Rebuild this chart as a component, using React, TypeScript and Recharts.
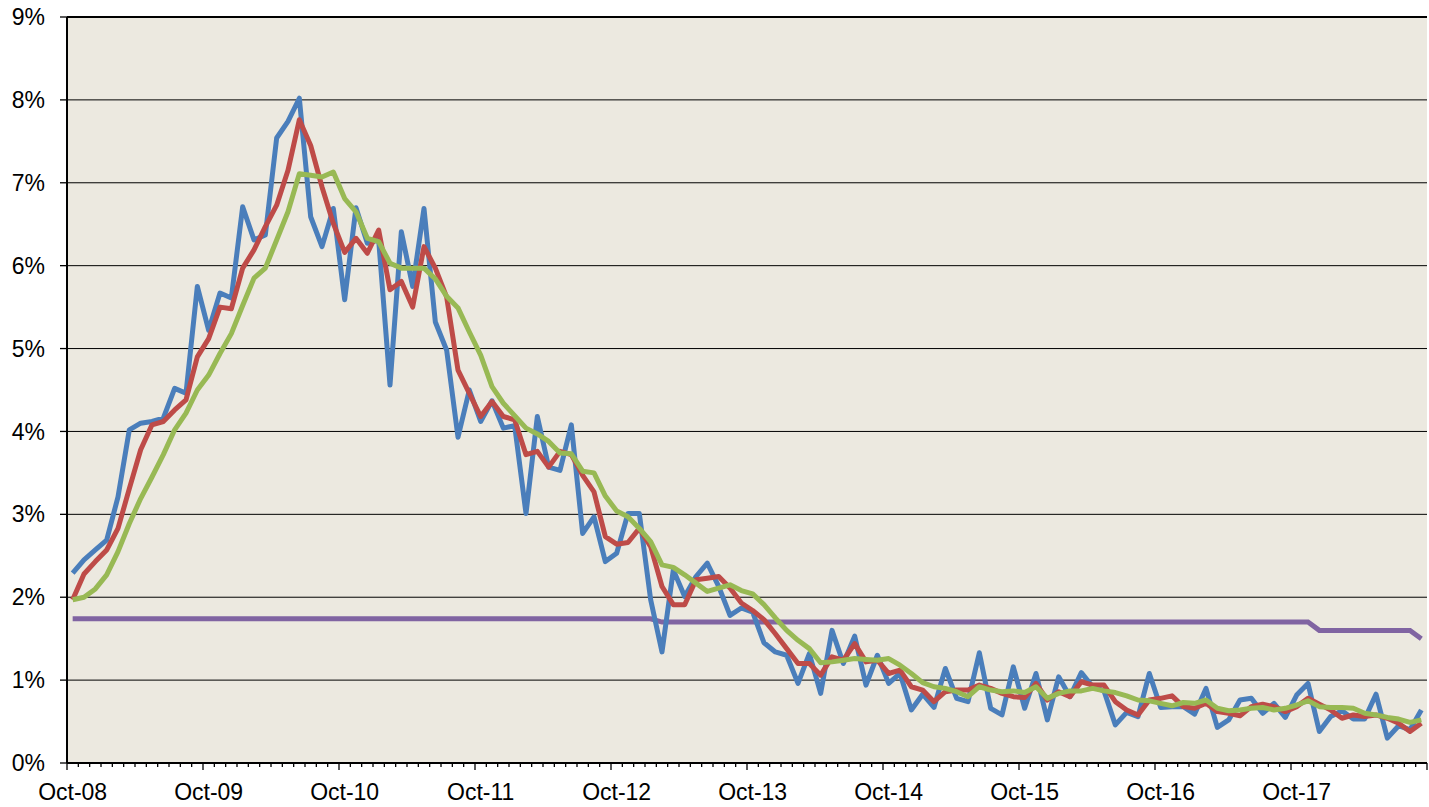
import {
  CartesianGrid,
  Line,
  LineChart,
  ReferenceLine,
  XAxis,
  YAxis,
} from "recharts";

// month categories Oct-08 .. Sep-18
const FIRST_HALF = ["Oct", "Nov", "Dec"];
const SECOND_HALF = ["Jan", "Feb", "Mar", "Apr", "May", "Jun", "Jul", "Aug", "Sep"];
const pad = (n: number) => (n < 10 ? `0${n}` : `${n}`);
const months: string[] = [];
for (let y = 8; y < 18; y++) {
  FIRST_HALF.forEach((m) => months.push(`${m}-${pad(y)}`));
  SECOND_HALF.forEach((m) => months.push(`${m}-${pad(y + 1)}`));
}

const monthly = [
  2.29, 2.45, 2.57, 2.69, 3.21, 4.02, 4.1, 4.12, 4.16, 4.52, 4.46, 5.75,
  5.22, 5.67, 5.61, 6.71, 6.31, 6.37, 7.54, 7.74, 8.02, 6.59, 6.23, 6.69,
  5.59, 6.7, 6.27, 6.31, 4.56, 6.41, 5.75, 6.69, 5.32, 4.98, 3.93, 4.5,
  4.12, 4.37, 4.04, 4.07, 3.01, 4.18, 3.57, 3.53, 4.08, 2.77, 2.97, 2.43,
  2.53, 3.01, 3.01, 1.97, 1.34, 2.33, 2.01, 2.25, 2.41, 2.13, 1.78, 1.87,
  1.82, 1.45, 1.34, 1.3, 0.96, 1.32, 0.84, 1.6, 1.2, 1.53, 0.94, 1.3,
  0.96, 1.08, 0.64, 0.83, 0.67, 1.14, 0.78, 0.74, 1.33, 0.66, 0.58, 1.16,
  0.66, 1.08, 0.52, 1.04, 0.8, 1.09, 0.92, 0.87, 0.46, 0.61, 0.56, 1.08,
  0.67, 0.68, 0.68, 0.59, 0.9, 0.43, 0.52, 0.76, 0.78, 0.6, 0.72, 0.55,
  0.82, 0.96, 0.38, 0.56, 0.63, 0.53, 0.53, 0.83, 0.3, 0.45, 0.4, 0.64,
];

const avgShort = [
  1.97, 2.28, 2.43, 2.57, 2.83, 3.31, 3.78, 4.08, 4.12, 4.26, 4.38, 4.9,
  5.12, 5.5, 5.48, 5.97, 6.19, 6.47, 6.73, 7.15, 7.76, 7.45, 6.95, 6.51,
  6.16, 6.33, 6.15, 6.43, 5.71, 5.81, 5.5, 6.23, 5.97, 5.62, 4.74, 4.46,
  4.18, 4.36, 4.18, 4.14, 3.72, 3.76, 3.57, 3.76, 3.72, 3.47, 3.27, 2.73,
  2.64, 2.66, 2.83, 2.61, 2.13, 1.91, 1.91, 2.21, 2.23, 2.25, 2.11, 1.93,
  1.84, 1.73, 1.56, 1.38, 1.2, 1.2, 1.06, 1.28, 1.24, 1.44, 1.22, 1.24,
  1.08, 1.12, 0.92, 0.88, 0.74, 0.86, 0.88, 0.88, 0.94, 0.9, 0.84, 0.8,
  0.79, 0.96, 0.76, 0.86, 0.8, 0.98, 0.94, 0.94, 0.74, 0.64, 0.58, 0.76,
  0.78, 0.81, 0.68, 0.66, 0.72, 0.62, 0.6, 0.57, 0.68, 0.71, 0.68, 0.62,
  0.68, 0.78, 0.71, 0.64, 0.54, 0.58, 0.56, 0.58, 0.54, 0.48, 0.38, 0.48,
];

const avgLong = [
  1.97, 2.0, 2.1, 2.27, 2.55, 2.89, 3.19, 3.45, 3.72, 4.02, 4.22, 4.5,
  4.68, 4.94, 5.18, 5.52, 5.85, 5.97, 6.31, 6.65, 7.11, 7.09, 7.07, 7.13,
  6.81, 6.65, 6.33, 6.29, 6.03, 5.97, 5.97, 5.97, 5.84, 5.63, 5.49, 5.2,
  4.92, 4.54, 4.34, 4.19, 4.04, 3.97, 3.88, 3.74, 3.73, 3.52, 3.5, 3.22,
  3.04, 2.97, 2.83, 2.67, 2.39, 2.36, 2.27, 2.17, 2.07, 2.11, 2.15, 2.08,
  2.04, 1.91, 1.75, 1.6, 1.48, 1.38, 1.21, 1.22, 1.24, 1.26, 1.25, 1.24,
  1.26, 1.18, 1.08, 0.97, 0.92, 0.9, 0.86, 0.8, 0.92, 0.88, 0.86, 0.87,
  0.85, 0.92, 0.78, 0.84, 0.87, 0.87, 0.9, 0.87, 0.85, 0.81, 0.76, 0.75,
  0.72, 0.69, 0.73, 0.72, 0.76, 0.66, 0.63, 0.64, 0.66, 0.67, 0.64, 0.66,
  0.7, 0.75, 0.68, 0.67, 0.67, 0.66, 0.6, 0.58, 0.55, 0.53, 0.49, 0.52,
];

const benchmark = [
  1.74, 1.74, 1.74, 1.74, 1.74, 1.74, 1.74, 1.74, 1.74, 1.74, 1.74, 1.74,
  1.74, 1.74, 1.74, 1.74, 1.74, 1.74, 1.74, 1.74, 1.74, 1.74, 1.74, 1.74,
  1.74, 1.74, 1.74, 1.74, 1.74, 1.74, 1.74, 1.74, 1.74, 1.74, 1.74, 1.74,
  1.74, 1.74, 1.74, 1.74, 1.74, 1.74, 1.74, 1.74, 1.74, 1.74, 1.74, 1.74,
  1.74, 1.74, 1.74, 1.74, 1.7, 1.7, 1.7, 1.7, 1.7, 1.7, 1.7, 1.7,
  1.7, 1.7, 1.7, 1.7, 1.7, 1.7, 1.7, 1.7, 1.7, 1.7, 1.7, 1.7,
  1.7, 1.7, 1.7, 1.7, 1.7, 1.7, 1.7, 1.7, 1.7, 1.7, 1.7, 1.7,
  1.7, 1.7, 1.7, 1.7, 1.7, 1.7, 1.7, 1.7, 1.7, 1.7, 1.7, 1.7,
  1.7, 1.7, 1.7, 1.7, 1.7, 1.7, 1.7, 1.7, 1.7, 1.7, 1.7, 1.7,
  1.7, 1.7, 1.6, 1.6, 1.6, 1.6, 1.6, 1.6, 1.6, 1.6, 1.6, 1.5,
];

const yTicks = [0, 1, 2, 3, 4, 5, 6, 7, 8, 9];

const data = months.map((month, i) => ({
  i,
  month,
  monthly: monthly[i],
  avgShort: avgShort[i],
  avgLong: avgLong[i],
  benchmark: benchmark[i],
}));

const W = 1429;
const H = 807;
const Y_AXIS_W = 67;
const RIGHT = 2;
const BAND = (W - Y_AXIS_W - RIGHT) / data.length;
const FONT = "Arial, 'Liberation Sans', sans-serif";
const LINE_W = 5;

// category boundaries, one tick per month edge
const xTicks = Array.from({ length: data.length + 1 }, (_, k) => k - 0.5);

const MonthTick = ({ x, y, payload }: any) => {
  const k = Math.round(payload.value + 0.5);
  const major = k % 12 === 0;
  const label = major && k < data.length ? data[k].month : null;
  return (
    <g>
      <line x1={x} x2={x} y1={y} y2={y + (major ? 7 : 4)} stroke="#000" strokeWidth={1.3} />
      {label && (
        <text
          x={x + BAND / 2}
          y={y + 37}
          textAnchor="middle"
          fontSize={23}
          fontFamily={FONT}
          fill="#000"
        >
          {label}
        </text>
      )}
    </g>
  );
};

export default function App() {
  return (
    <div style={{ position: "absolute", left: 0, top: 0, background: "#fff" }}>
      <LineChart
        width={W}
        height={H}
        data={data}
        margin={{ top: 17, right: RIGHT, bottom: 0, left: 0 }}
      >
        <CartesianGrid
          vertical={false}
          stroke="#000"
          strokeWidth={1}
          fill="#ECE9E0"
          fillOpacity={1}
        />
        <XAxis
          type="number"
          dataKey="i"
          domain={[-0.5, data.length - 0.5]}
          ticks={xTicks}
          interval={0}
          height={44}
          tickSize={0}
          tickMargin={0}
          tickLine={false}
          axisLine={{ stroke: "#000", strokeWidth: 2 }}
          tick={<MonthTick />}
        />
        <YAxis
          type="number"
          domain={[0, 9]}
          ticks={yTicks}
          width={Y_AXIS_W}
          tickSize={7}
          tickMargin={15}
          tickLine={{ stroke: "#000", strokeWidth: 1.3 }}
          axisLine={{ stroke: "#000", strokeWidth: 2 }}
          tick={{ fontSize: 23, fill: "#000", fontFamily: FONT }}
          tickFormatter={(v) => `${v}%`}
        />
        <ReferenceLine y={9} stroke="#000" strokeWidth={2} />
        <Line
          type="linear"
          dataKey="benchmark"
          stroke="#8064A2"
          strokeWidth={LINE_W}
          dot={false}
          isAnimationActive={false}
        />
        <Line
          type="linear"
          dataKey="monthly"
          stroke="#4A7EBB"
          strokeWidth={LINE_W}
          strokeLinejoin="round"
          dot={false}
          isAnimationActive={false}
        />
        <Line
          type="linear"
          dataKey="avgShort"
          stroke="#BE4B48"
          strokeWidth={LINE_W}
          strokeLinejoin="round"
          dot={false}
          isAnimationActive={false}
        />
        <Line
          type="linear"
          dataKey="avgLong"
          stroke="#98B954"
          strokeWidth={LINE_W}
          strokeLinejoin="round"
          dot={false}
          isAnimationActive={false}
        />
      </LineChart>
    </div>
  );
}
